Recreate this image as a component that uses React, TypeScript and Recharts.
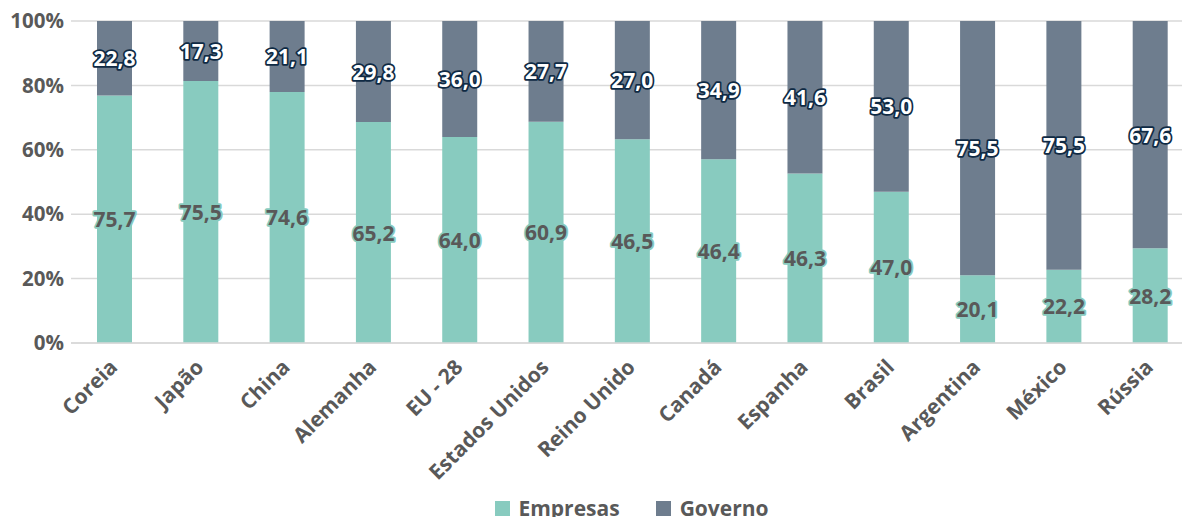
import React from 'react';
import { BarChart, Bar, XAxis, YAxis, CartesianGrid, Legend, LabelList } from 'recharts';

const countries = ['Coreia', 'Japão', 'China', 'Alemanha', 'EU - 28', 'Estados Unidos', 'Reino Unido', 'Canadá', 'Espanha', 'Brasil', 'Argentina', 'México', 'Rússia'];
const empresas = [75.7, 75.5, 74.6, 65.2, 64.0, 60.9, 46.5, 46.4, 46.3, 47.0, 20.1, 22.2, 28.2];
const governo = [22.8, 17.3, 21.1, 29.8, 36.0, 27.7, 27.0, 34.9, 41.6, 53.0, 75.5, 75.5, 67.6];
const yTicks = [0, 0.2, 0.4, 0.6, 0.8, 1];

const data = countries.map((name, i) => ({ name, empresas: empresas[i], governo: governo[i] }));

const font = "'Open Sans', sans-serif";
const teal = '#88cbbf';
const slate = '#6e7d8e';

const fmt = (v: number) => v.toFixed(1).replace('.', ',');

const makeLabel = (fill: string, stroke: string) => (props: any) => {
  const { x, y, width, height, value } = props;
  return (
    <text
      x={x + width / 2}
      y={y + height / 2}
      textAnchor="middle"
      dominantBaseline="central"
      fontFamily={font}
      fontWeight={700}
      fontSize={21}
      fill={fill}
      stroke={stroke}
      strokeWidth={3.5}
      strokeLinejoin="round"
      paintOrder="stroke"
    >
      {fmt(value)}
    </text>
  );
};

const XTick = (props: any) => {
  const { x, y, payload } = props;
  return (
    <g transform={`translate(${x - 6},${y + 7})`}>
      <text
        textAnchor="end"
        transform="rotate(-45)"
        dy="0.71em"
        fontFamily={font}
        fontWeight={700}
        fontSize={21}
        fill="#595959"
      >
        {payload.value}
      </text>
    </g>
  );
};

const LegendContent = () => (
  <div style={{ display: 'flex', justifyContent: 'center', alignItems: 'center', fontFamily: font, fontWeight: 700, fontSize: 21, color: '#595959' }}>
    <span style={{ width: 15, height: 15, background: teal, display: 'inline-block', marginRight: 8 }} />
    <span style={{ marginRight: 36 }}>Empresas</span>
    <span style={{ width: 15, height: 15, background: slate, display: 'inline-block', marginRight: 9 }} />
    <span>Governo</span>
  </div>
);

export default function App() {
  return (
    <div style={{ position: 'absolute', left: 0, top: 0, width: 1182, height: 517, overflow: 'hidden', background: '#fff' }}>
      <BarChart
        width={1193}
        height={517}
        data={data}
        stackOffset="expand"
        margin={{ top: 21, right: 0, left: 0, bottom: 0 }}
        barSize={35}
      >
        <CartesianGrid vertical={false} stroke="#d9d9d9" strokeWidth={1.5} />
        <XAxis
          dataKey="name"
          interval={0}
          height={144}
          tick={<XTick />}
          tickLine={false}
          axisLine={{ stroke: '#d9d9d9', strokeWidth: 1.5 }}
        />
        <YAxis
          width={71}
          ticks={yTicks}
          domain={[0, 1]}
          tickFormatter={(v: number) => `${Math.round(v * 100)}%`}
          axisLine={false}
          tickLine={false}
          tickSize={0}
          tickMargin={7}
          tick={{ fontFamily: font, fontWeight: 700, fontSize: 20.5, fill: '#595959' }}
        />
        <Legend
          verticalAlign="bottom"
          height={30}
          content={<LegendContent />}
          wrapperStyle={{ left: 71, width: 1122, bottom: -7 }}
        />
        <Bar dataKey="empresas" name="Empresas" stackId="a" fill={teal} isAnimationActive={false}>
          <LabelList dataKey="empresas" content={makeLabel('#595959', teal)} />
        </Bar>
        <Bar dataKey="governo" name="Governo" stackId="a" fill={slate} isAnimationActive={false}>
          <LabelList dataKey="governo" content={makeLabel('#ffffff', '#0f2a44')} />
        </Bar>
      </BarChart>
    </div>
  );
}
